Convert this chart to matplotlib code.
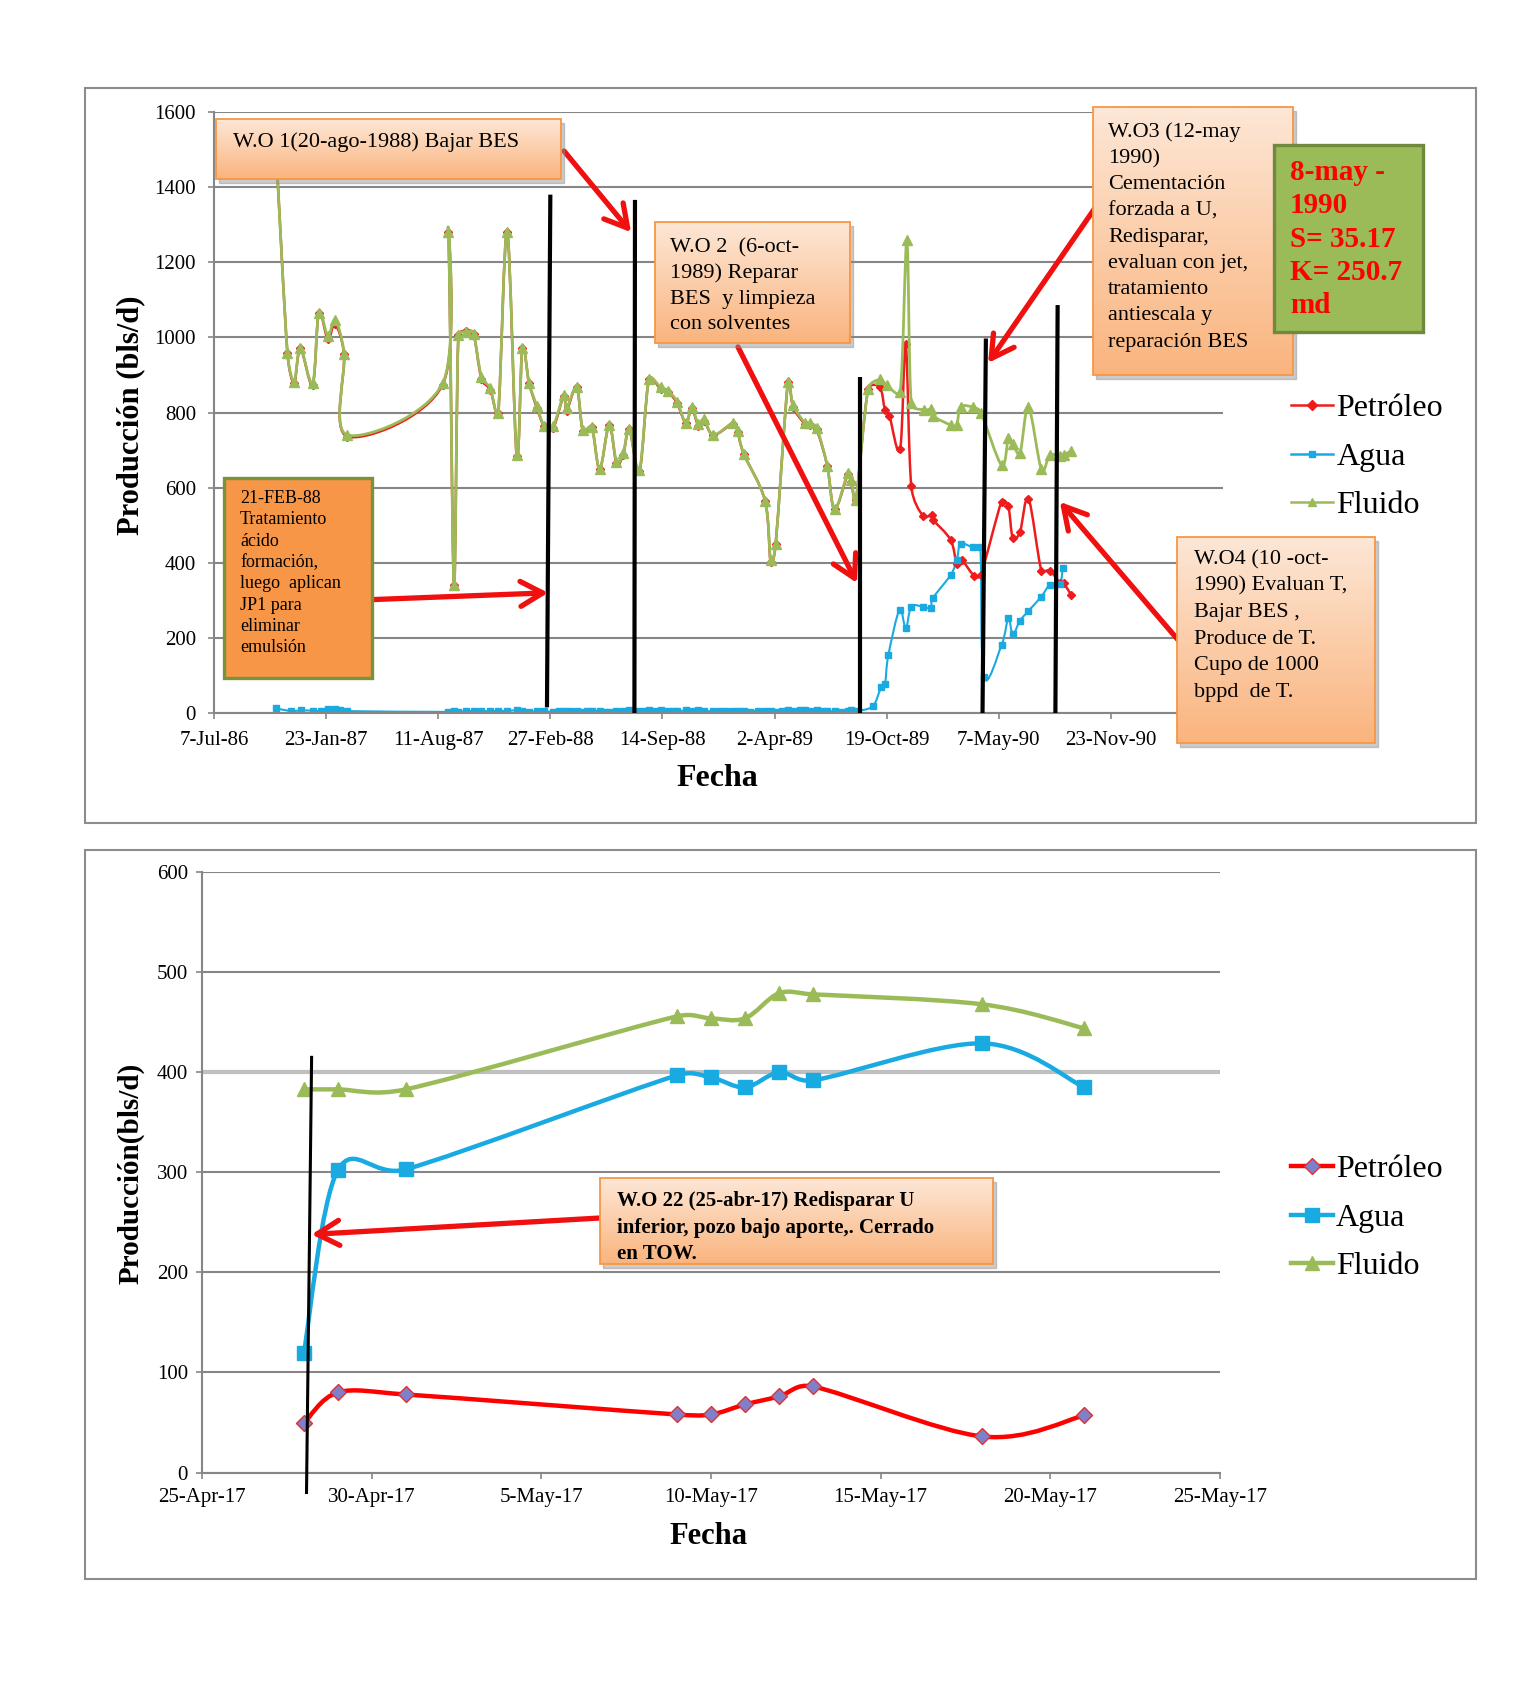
import numpy as np
import matplotlib.pyplot as plt
import matplotlib.dates as mdates
from matplotlib.path import Path
from matplotlib.patches import PathPatch, Rectangle
from matplotlib.lines import Line2D
from matplotlib.colors import LinearSegmentedColormap
from matplotlib.transforms import offset_copy

plt.rcParams['font.family'] = ['Liberation Serif', 'DejaVu Serif']

# ---- historial 1986-1991 (dias contados desde 7-Jul-86)
fecha0 = np.datetime64('1986-07-07')

dias_fluido = [110, 131, 143, 154, 176, 187, 203, 216, 232, 238,
               408, 418, 428, 436, 450, 463, 477, 493, 507, 523,
               540, 550, 562, 576, 589, 605, 624, 629, 647, 658,
               674, 688, 705, 718, 730, 741, 759, 776, 797, 810,
               826, 842, 852, 864, 874, 891, 926, 934, 945, 983,
               993, 1002, 1024, 1033, 1054, 1063, 1075, 1094, 1107, 1131,
               1137, 1145, 1167, 1188, 1200, 1224, 1236, 1244, 1266, 1279,
               1282, 1314, 1325, 1332, 1354, 1368, 1405, 1417, 1425, 1438,
               1453, 1476, 1491, 1509, 1516, 1529]
fluido = [1520, 958, 882, 971, 878, 1066, 1004, 1046, 956, 740,
          878, 1281, 341, 1006, 1015, 1010, 895, 864, 798, 1281,
          687, 971, 879, 817, 764, 763, 847, 811, 867, 753,
          761, 649, 767, 669, 691, 755, 647, 888, 867, 858,
          829, 771, 815, 769, 782, 740, 773, 752, 690, 565,
          407, 450, 882, 820, 773, 771, 760, 658, 542, 640,
          620, 567, 862, 888, 873, 855, 1258, 824, 807, 808,
          791, 767, 767, 815, 814, 800, 660, 731, 715, 693,
          814, 649, 687, 683, 687, 698]

dias_petroleo = dias_fluido[:62] + [1167, 1188, 1197, 1205, 1224, 1234, 1244, 1265, 1280, 1283,
                                    1314, 1325, 1334, 1356, 1368, 1405, 1417, 1425, 1438, 1453,
                                    1476, 1491, 1509, 1516, 1529]
petroleo = [1520, 958, 878, 971, 874, 1066, 995, 1035, 956, 736,
            874, 1281, 341, 1006, 1018, 1010, 890, 860, 798, 1281,
            683, 971, 879, 812, 764, 758, 845, 805, 867, 750,
            761, 649, 767, 665, 688, 755, 643, 888, 862, 855,
            825, 771, 812, 765, 778, 740, 770, 748, 690, 565,
            403, 450, 882, 815, 770, 768, 755, 658, 542, 636,
            615, 567,
            862, 867, 807, 791, 702, 982, 603, 524, 527, 514,
            461, 398, 407, 365, 367, 563, 551, 465, 483, 571,
            379, 379, 347, 345, 314]

dias_agua = [110, 137, 155, 177, 190, 204, 216, 225, 237,
             418, 428, 436, 450, 463, 477, 493, 507, 523, 540,
             550, 562, 576, 589, 605, 615, 624, 635, 647, 658,
             666, 674, 688, 697, 705, 718, 730, 741, 759, 768,
             776, 787, 797, 810, 818, 826, 842, 852, 864, 874,
             891, 903, 914, 926, 934, 945, 956, 970, 983, 993,
             1002, 1013, 1024, 1033, 1045, 1054, 1063, 1075, 1085, 1094,
             1107, 1118, 1131, 1137, 1145,
             1175, 1190, 1197, 1203, 1223, 1234, 1244, 1265, 1279, 1282,
             1314, 1325, 1332, 1354, 1367, 1373, 1405, 1417, 1425, 1438,
             1453, 1476, 1491, 1509, 1514]
agua = [13, 5, 7, 6, 5, 10, 11, 8, 5,
        3, 6, 3, 5, 5, 6, 4, 6, 5, 8,
        6, 3, 4, 4, 3, 5, 5, 4, 6, 3,
        5, 6, 5, 3, 3, 6, 4, 7, 5, 6,
        8, 5, 7, 5, 4, 4, 7, 6, 9, 5,
        5, 4, 6, 6, 4, 5, 3, 6, 4, 6,
        3, 5, 8, 5, 7, 9, 6, 7, 5, 5,
        4, 3, 6, 8, 5,
        18, 68, 78, 154, 275, 225, 283, 283, 279, 305,
        367, 407, 450, 441, 441, 97, 181, 252, 210, 246,
        272, 310, 341, 343, 385]

ticks_top = ['1986-07-07', '1987-01-23', '1987-08-11', '1988-02-27', '1988-09-14',
             '1989-04-02', '1989-10-19', '1990-05-07', '1990-11-23']

# ---- abril-mayo 2017
fechas_17 = ['2017-04-28', '2017-04-29', '2017-05-01', '2017-05-09', '2017-05-10',
             '2017-05-11', '2017-05-12', '2017-05-13', '2017-05-18', '2017-05-21']
petroleo_17 = [49, 80, 78, 58, 58, 68, 76, 86, 36, 57]
agua_17 = [119, 302, 303, 397, 395, 385, 400, 392, 429, 385]
fluido_17 = [383, 383, 383, 456, 454, 454, 479, 478, 468, 444]

ticks_bot = ['2017-04-25', '2017-04-30', '2017-05-05', '2017-05-10',
             '2017-05-15', '2017-05-20', '2017-05-25']

series = ['Petróleo', 'Agua', 'Fluido']

# colores
ROJO = '#EE1C1C'
AZUL = '#1AAAE2'
VERDE = '#9BBB59'
GRIS = '#868686'
FLECHA = '#F01010'

W, H = 1538, 1684
fig = plt.figure(figsize=(W / 100, H / 100), dpi=100)


def fx(x):
    return x / W


def fy(y):
    return 1 - y / H


def dias(d):
    return mdates.date2num(fecha0 + np.array(d, dtype='timedelta64[D]'))


def fechas(s):
    return mdates.date2num(np.array(s, dtype='datetime64[D]'))


def suave(ax, x, y, color, lw, z):
    # linea suavizada tipo Excel (Catmull-Rom en pixeles, control limitado por tramo)
    p = ax.transData.transform(np.column_stack([x, y]))
    n = len(p)

    def ctrl(t, L):
        m = np.hypot(*t)
        return t * min(1.0, 0.5 * L / m) if m > 0 else t

    verts = [p[0]]
    codes = [Path.MOVETO]
    for i in range(n - 1):
        p0 = p[max(i - 1, 0)]
        p1, p2 = p[i], p[i + 1]
        p3 = p[min(i + 2, n - 1)]
        L = np.hypot(*(p2 - p1))
        verts += [p1 + ctrl((p2 - p0) / 6, L), p2 - ctrl((p3 - p1) / 6, L), p2]
        codes += [Path.CURVE4] * 3
    verts = ax.transData.inverted().transform(np.array(verts))
    ax.add_patch(PathPatch(Path(verts, codes), fill=False, edgecolor=color,
                           lw=lw, zorder=z, joinstyle='round', capstyle='round'))


naranja = LinearSegmentedColormap.from_list('naranja', ['#FDE7D6', '#FAB47E'])


def caja(x0, y0, x1, y1):
    bx = fig.add_axes([fx(x0), fy(y1), fx(x1) - fx(x0), fy(y0) - fy(y1)])
    sombra = offset_copy(bx.transAxes, fig=fig, x=3, y=-4, units='dots')
    bx.add_patch(Rectangle((0, 0), 1, 1, transform=sombra, color='0.55',
                           alpha=0.45, clip_on=False, zorder=-1))
    bx.imshow(np.linspace(0, 1, 100)[:, None], cmap=naranja, aspect='auto',
              extent=[0, 1, 0, 1], origin='upper')
    bx.add_patch(Rectangle((0, 0), 1, 1, transform=bx.transAxes, fill=False,
                           edgecolor='#F79646', lw=1.3, clip_on=False))
    bx.set_axis_off()
    return bx


def texto(x, y, lineas, dy, size, **kw):
    for i, t in enumerate(lineas):
        fig.text(fx(x), fy(y + i * dy), t, fontsize=size, va='baseline', ha='left', **kw)


def flecha(ax, xy, x, y):
    ax.annotate('', xy=xy, xytext=(fx(x), fy(y)), textcoords='figure fraction',
                arrowprops=dict(arrowstyle='->,head_length=0.8,head_width=0.45',
                                color=FLECHA, lw=3.8, shrinkA=0, shrinkB=0,
                                mutation_scale=20),
                annotation_clip=False, zorder=6)


# marcos de los graficos
for y0, y1 in [(88.5, 822.6), (849.6, 1579.4)]:
    fig.add_artist(Rectangle((fx(85), fy(y1)), fx(1476) - fx(85), fy(y0) - fy(y1),
                             transform=fig.transFigure, fill=False,
                             edgecolor='#8C8C8C', lw=1.5, zorder=-1))

# ================= grafico superior =================
ax1 = fig.add_axes([fx(214), fy(713), fx(1223) - fx(214), fy(112) - fy(713)])
ax1.set_xlim(dias([0])[0], dias([1800])[0])
ax1.set_ylim(0, 1600)
ax1.set_yticks(np.arange(0, 1601, 200))
ax1.set_xticks(fechas(ticks_top))
ax1.xaxis.set_major_formatter(mdates.DateFormatter('%-d-%b-%y'))
ax1.set_axisbelow(True)
ax1.grid(axis='y', color=GRIS, lw=1.5)
for s in ['top', 'right']:
    ax1.spines[s].set_visible(False)
for s in ['left', 'bottom']:
    ax1.spines[s].set_color(GRIS)
    ax1.spines[s].set_linewidth(1.5)
ax1.tick_params(labelsize=15, length=4, color=GRIS, width=1.2, pad=9)

x_p, x_a, x_f = dias(dias_petroleo), dias(dias_agua), dias(dias_fluido)
suave(ax1, x_p, petroleo, ROJO, 1.8, 2)
suave(ax1, x_a, agua, AZUL, 1.5, 2)
suave(ax1, x_f, fluido, VERDE, 2.0, 3)
ax1.plot(x_p, petroleo, ls='none', marker='D', ms=4.5, color=ROJO, zorder=2.5)
ax1.plot(x_a, agua, ls='none', marker='s', ms=5, color=AZUL, zorder=2.5)
ax1.plot(x_f, fluido, ls='none', marker='^', ms=6.5, color=VERDE, zorder=3.5)

# intervenciones (W.O)
for d0, v0, d1, v1 in [(600, 1380, 594, 15), (751, 1366, 750, 0), (1152, 895, 1152, 0),
                       (1377, 997, 1371, 0), (1505, 1086, 1501, 0)]:
    ax1.plot(dias([d0, d1]), [v0, v1], color='k', lw=3, zorder=5,
             solid_capstyle='butt', clip_on=False)

h1 = [Line2D([], [], color=ROJO, lw=1.8, marker='D', ms=5),
      Line2D([], [], color=AZUL, lw=1.8, marker='s', ms=5),
      Line2D([], [], color=VERDE, lw=1.8, marker='^', ms=6)]
ax1.legend(h1, series, loc='upper left', bbox_to_anchor=(fx(1291), fy(394)),
           bbox_transform=fig.transFigure, frameon=False, fontsize=23,
           handlelength=1.3, handletextpad=0.12, labelspacing=0.6,
           borderpad=0, borderaxespad=0)

ax1.set_ylabel('Producción (bls/d)', fontsize=22, fontweight='bold')
ax1.yaxis.set_label_coords(-0.0823, 0.496)
ax1.yaxis.label.set_va('center')
ax1.set_xlabel('Fecha', fontsize=23, fontweight='bold')
ax1.xaxis.set_label_coords(0.499, -0.1098)
ax1.xaxis.label.set_va('center')

# cuadros de texto
caja(216, 119, 561, 179)
texto(233, 147, ['W.O 1(20-ago-1988) Bajar BES'], 0, 16)

caja(655, 222, 850, 343)
texto(670, 252, ['W.O 2  (6-oct-', '1989) Reparar', 'BES  y limpieza', 'con solventes'], 25.8, 16)

caja(1093, 107, 1293, 375)
texto(1108, 137, ['W.O3 (12-may', '1990)', 'Cementación', 'forzada a U,', 'Redisparar,',
                  'evaluan con jet,', 'tratamiento', 'antiescala y', 'reparación BES'], 26.2, 16)

caja(1177, 537, 1375, 743)
texto(1194, 564, ['W.O4 (10 -oct-', '1990) Evaluan T,', 'Bajar BES ,', 'Produce de T.',
                  'Cupo de 1000', 'bppd  de T.'], 26.6, 16)

fig.add_artist(Rectangle((fx(1274), fy(332)), fx(1423) - fx(1274), fy(145) - fy(332),
                         transform=fig.transFigure, facecolor=VERDE,
                         edgecolor='#71893F', lw=2.4, zorder=1))
texto(1290, 180, ['8-may -', '1990', 'S= 35.17', 'K= 250.7', 'md'], 33.3, 21,
      color='#FF0000', fontweight='bold')

fig.add_artist(Rectangle((fx(224), fy(678)), fx(372) - fx(224), fy(478) - fy(678),
                         transform=fig.transFigure, facecolor='#F79646',
                         edgecolor='#77933C', lw=2.4, zorder=1))
texto(240, 503, ['21-FEB-88', 'Tratamiento', 'ácido', 'formación,', 'luego  aplican',
                 'JP1 para', 'eliminar', 'emulsión'], 21.3, 13)

flecha(ax1, (dias([744])[0], 1280), 564, 151)
flecha(ax1, (dias([1147])[0], 346), 738, 347)
flecha(ax1, (dias([1381])[0], 932), 1095, 208)
flecha(ax1, (dias([596])[0], 320), 362, 600)
flecha(ax1, (dias([1509])[0], 562), 1179, 641)

# ================= grafico inferior =================
ax2 = fig.add_axes([fx(202), fy(1472.5), fx(1220) - fx(202), fy(872.3) - fy(1472.5)])
x0 = fechas(['2017-04-25'])[0]
ax2.set_xlim(x0, fechas(['2017-05-25'])[0])
ax2.set_ylim(0, 600)
ax2.set_yticks(np.arange(0, 601, 100))
ax2.set_xticks(fechas(ticks_bot))
ax2.xaxis.set_major_formatter(mdates.DateFormatter('%-d-%b-%y'))
ax2.set_axisbelow(True)
ax2.grid(axis='y', color=GRIS, lw=1.5)
g400 = ax2.get_ygridlines()[4]
g400.set_color('#BFBFBF')
g400.set_linewidth(3)
for s in ['top', 'right']:
    ax2.spines[s].set_visible(False)
for s in ['left', 'bottom']:
    ax2.spines[s].set_color(GRIS)
    ax2.spines[s].set_linewidth(1.5)
ax2.tick_params(labelsize=15, length=4, color=GRIS, width=1.2)
ax2.tick_params(axis='x', pad=7)
ax2.tick_params(axis='y', pad=6)

x17 = fechas(fechas_17)
suave(ax2, x17, petroleo_17, '#FF0000', 3.2, 2)
suave(ax2, x17, agua_17, AZUL, 3.2, 2)
suave(ax2, x17, fluido_17, VERDE, 3.2, 2)
ax2.plot(x17, petroleo_17, ls='none', marker='D', ms=8, mfc='#7E80CC', mec='#E03030',
         mew=1, zorder=3)
ax2.plot(x17, agua_17, ls='none', marker='s', ms=10, color=AZUL, zorder=3)
ax2.plot(x17, fluido_17, ls='none', marker='^', ms=10, color=VERDE, zorder=3)

ax2.plot([x0 + 3.23, x0 + 3.08], [415, -20], color='k', lw=2.2, zorder=5, clip_on=False)

h2 = [Line2D([], [], color='#FF0000', lw=3.2, marker='D', ms=8, mfc='#7E80CC', mec='#E03030'),
      Line2D([], [], color=AZUL, lw=3.2, marker='s', ms=10),
      Line2D([], [], color=VERDE, lw=3.2, marker='^', ms=10)]
ax2.legend(h2, series, loc='upper left', bbox_to_anchor=(fx(1291), fy(1155)),
           bbox_transform=fig.transFigure, frameon=False, fontsize=23,
           handlelength=1.3, handletextpad=0.1, labelspacing=0.6,
           borderpad=0, borderaxespad=0)

ax2.set_ylabel('Producción(bls/d)', fontsize=21, fontweight='bold')
ax2.yaxis.set_label_coords(-0.0697, 0.499)
ax2.yaxis.label.set_va('center')
ax2.set_xlabel('Fecha', fontsize=22, fontweight='bold')
ax2.xaxis.set_label_coords(0.498, -0.106)
ax2.xaxis.label.set_va('center')

caja(600, 1178, 993, 1264)
texto(617, 1206, ['W.O 22 (25-abr-17) Redisparar U', 'inferior, pozo bajo aporte,. Cerrado',
                  'en TOW.'], 26.5, 15, fontweight='bold')
flecha(ax2, (x0 + 3.23, 238), 600, 1218)

fig.savefig('out.png', dpi=100, facecolor='white')
